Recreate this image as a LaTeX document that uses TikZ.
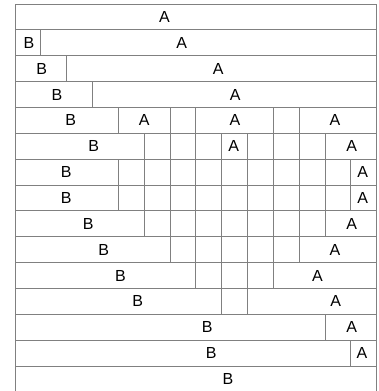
\documentclass[tikz,border=0pt]{standalone}
\usepackage{fontspec}
\setmainfont{Liberation Sans}
\definecolor{gridgray}{RGB}{128,128,128}
\begin{document}
\begin{tikzpicture}[x=1pt,y=-1pt,
  gridline/.style={draw=gridgray, line width=0.8pt},
  lbl/.style={inner sep=0pt, text=black, font=\fontsize{16}{18}\selectfont}]
\useasboundingbox (0,0) rectangle (379,391);
\clip (0,0) rectangle (379,391);
\def\cw{25.83}
\def\rh{25.86}
% outer frame
\draw[gridline] (15,4) rectangle (376.6,{4+15*\rh});
% horizontal lines
\foreach \r in {1,...,14} {
  \draw[gridline] (15,{4+\r*\rh}) -- (376.6,{4+\r*\rh});
}
% vertical segments per row
\foreach \r/\ks in {1/{1},2/{2},3/{3},4/{4,6,7,10,11},5/{5,6,7,8,9,10,11,12},
  6/{4,5,6,7,8,9,10,11,12,13},7/{4,5,6,7,8,9,10,11,12,13},8/{5,6,7,8,9,10,11,12},
  9/{6,7,8,9,10,11},10/{7,8,9,10},11/{8,9},12/{12},13/{13}} {
  \foreach \k in \ks {
    \draw[gridline] ({15+\k*\cw},{4+\r*\rh}) -- ({15+\k*\cw},{4+(\r+1)*\rh});
  }
}
% labels
\foreach \n/\r/\x/\t in {
  a0/0/164.5/A,
  b1/1/29/B, a1/1/181.7/A,
  b2/2/41.7/B, a2/2/218.3/A,
  b3/3/57/B, a3/3/235.3/A,
  b4/4/70.8/B, a4a/4/144.3/A, a4b/4/235/A, a4c/4/335/A,
  b5/5/93.8/B, a5a/5/233.8/A, a5b/5/351.7/A,
  b6/6/66.3/B, a6/6/362.8/A,
  b7/7/66.3/B, a7/7/362.8/A,
  b8/8/88.3/B, a8/8/351.7/A,
  b9/9/103.7/B, a9/9/335/A,
  b10/10/120.5/B, a10/10/317.5/A,
  b11/11/137.8/B, a11/11/335.8/A,
  b12/12/207.2/B, a12/12/351.7/A,
  b13/13/211.3/B, a13/13/362/A,
  b14/14/228/B} {
  \node[lbl] (\n) at (\x,{4+(\r+0.5)*\rh}) {\t};
}
\end{tikzpicture}
\end{document}
